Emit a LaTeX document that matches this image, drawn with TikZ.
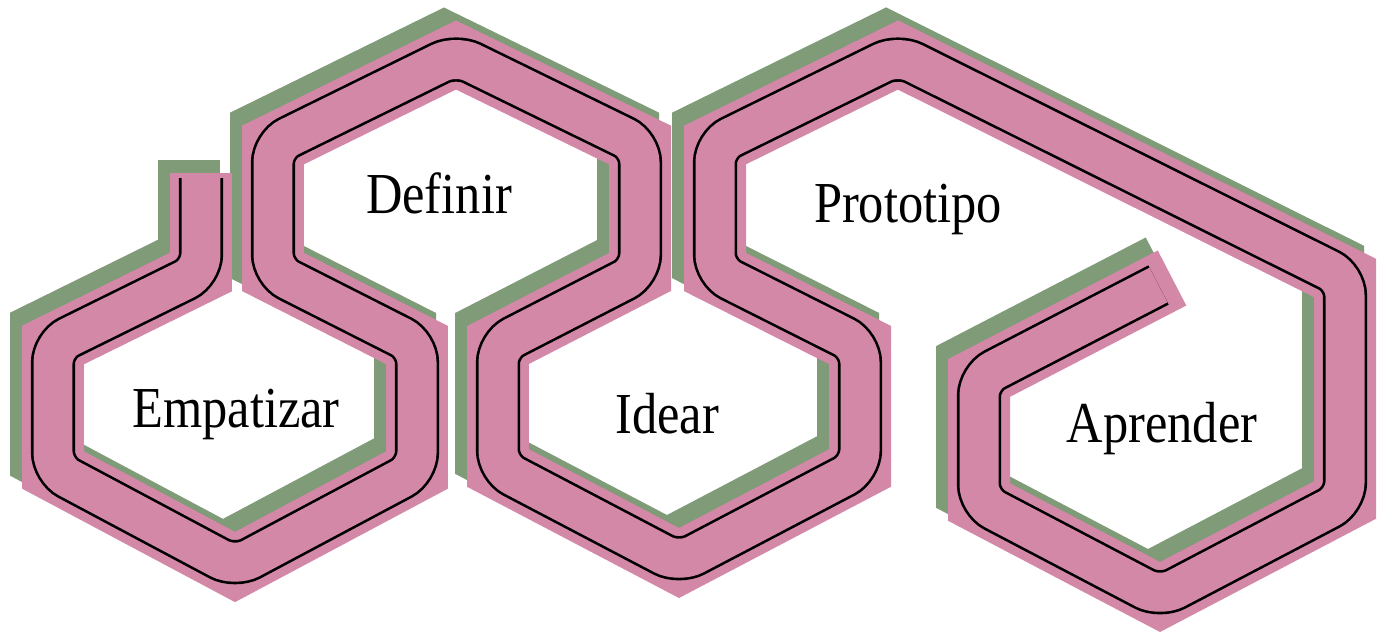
\documentclass[tikz,border=0pt]{standalone}
\usepackage{fontspec}
\usepackage{tikz}
\usetikzlibrary{calc}
\newfontfamily\stagefont[FakeStretch=0.87]{Liberation Serif}
\definecolor{rosepink}{HTML}{D388A8}
\definecolor{leafgreen}{HTML}{7F9B78}
\tikzset{
    band/.style={draw=rosepink, line width=1.24cm, line join=miter},
    shadowband/.style={draw=leafgreen, line width=1.24cm, line join=miter},
    trace/.style={draw=black, line width=1.5pt, double=rosepink,
        double distance=0.78cm, rounded corners=10pt},
    stagename/.style={font=\stagefont\fontsize{33}{36}\selectfont, anchor=base},
}
\newcommand{\hexroute}{-- (e1) -- (e2) -- (e3) -- (e4) -- (e5) -- (e6)
    -- (d1) -- (d2) -- (d3) -- (d4) -- (d5)
    -- (i1) -- (i2) -- (i3) -- (i4) -- (i5)
    -- (p1) -- (p2) -- (p3) -- (p4) -- (p5)
    -- (a1) -- (a2) -- (a3)}

\begin{document}
\begin{tikzpicture}[x=0.02cm, y=-0.02cm]
	\useasboundingbox[fill=white] (0,0) rectangle (1380,637);
	% centre line of the band
	\coordinate (s0) at (201,173);
	\coordinate (e1) at (201,272);
	\coordinate (e2) at (53,345);
	\coordinate (e3) at (53,470);
	\coordinate (e4) at (235,567);
	\coordinate (e5) at (417,470);
	\coordinate (e6) at (417,345);
	\coordinate (d1) at (273,272);
	\coordinate (d2) at (273,145);
	\coordinate (d3) at (456,55);
	\coordinate (d4) at (640,145);
	\coordinate (d5) at (640,272);
	\coordinate (i1) at (498,345);
	\coordinate (i2) at (498,468);
	\coordinate (i3) at (679,563);
	\coordinate (i4) at (860,468);
	\coordinate (i5) at (860,345);
	\coordinate (p1) at (715,272);
	\coordinate (p2) at (715,145);
	\coordinate (p3) at (898,55);
	\coordinate (p4) at (1345,278);
	\coordinate (p5) at (1345,500);
	\coordinate (a1) at (1160,597);
	\coordinate (a2) at (979,502);
	\coordinate (a3) at (979,378);
	\coordinate (a4) at (1172,278);
	\coordinate (t0) at (201,178);
	\coordinate (t1) at ($(a3)!0.93!(a4)$);
	%
	\begin{scope}[transform canvas={xshift=-0.24cm, yshift=0.26cm}]
		\draw[shadowband] (s0) \hexroute -- (a4);
	\end{scope}
	\draw[band] (s0) \hexroute -- (a4);
	\draw[trace] (t0) \hexroute -- (t1);
	%
	\node[stagename] (empatizar) at (236,427) {Empatizar};
	\node[stagename] (definir) at (439,213) {Definir};
	\node[stagename] (idear) at (667,433) {Idear};
	\node[stagename] (prototipo) at (908,222) {Prototipo};
	\node[stagename] (aprender) at (1162,442) {Aprender};
\end{tikzpicture}
\end{document}
